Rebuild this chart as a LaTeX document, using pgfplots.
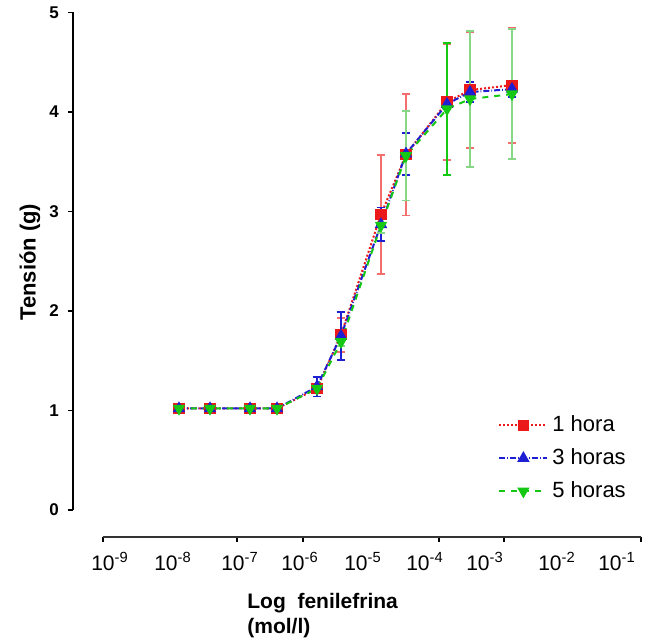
\documentclass[border=0pt]{standalone}
\usepackage{fontspec}
\setmainfont{Liberation Sans}
\usepackage{pgfplots}
\pgfplotsset{compat=1.18}
\definecolor{cred}{RGB}{235,25,25}
\definecolor{cblue}{RGB}{30,30,210}
\definecolor{cgreen}{RGB}{20,200,20}
\definecolor{lred}{RGB}{245,110,110}
\definecolor{lgreen}{RGB}{135,215,135}
\begin{document}
\begin{tikzpicture}
\path[use as bounding box] (-36.5pt,-51.5pt) rectangle (286pt,268.5pt);
\begin{axis}[
  scale only axis, width=284pt, height=262.25pt,
  xmin=73, xmax=641, ymin=-0.2714, ymax=5,
  clip=false,
  axis x line=bottom, axis y line=left,
  axis line style={-, line width=1pt},
  x axis line style={shorten <=15pt, draw=black!80},
  y axis line style={shorten <=13.5pt},
  tick align=outside,
  major tick length=2.5pt,
  tick style={line width=0.8pt, black},
  xtick={103,237,303,439,504,641},
  xticklabels={,,,,,},
  extra x ticks={110,173,240,300,363,425,485,557,617},
  extra x tick labels={10\textsuperscript{-9},10\textsuperscript{-8},10\textsuperscript{-7},10\textsuperscript{-6},10\textsuperscript{-5},10\textsuperscript{-4},10\textsuperscript{-3},10\textsuperscript{-2},10\textsuperscript{-1}},
  extra x tick style={major tick length=0pt, tick style={draw=none}},
  xticklabel style={font=\fontsize{10.5}{12}\selectfont, yshift=-4pt},
  ytick={0,1,2,3,4,5},
  yticklabels={0,1,2,3,4,5},
  yticklabel style={font=\bfseries\fontsize{8.5}{10}\selectfont, xshift=-1pt},
  legend style={at={(axis cs:498,0.99)}, anchor=north west, draw=none, fill=none,
    font=\fontsize{11}{13}\selectfont, row sep=3pt, inner sep=0pt},
  legend cell align=left,
  legend image code/.code={\draw[mark repeat=2, mark phase=2, #1] plot coordinates {(0pt,0pt) (12pt,0pt) (24pt,0pt)};},
]
\addplot[cred, densely dotted, line width=1pt, mark=square*, mark size=2.3pt,
  mark options={solid, fill=cred, draw=cred},
  error bars/.cd, y dir=both, y explicit,
  error bar style={solid, line width=0.9pt, lred},
  error mark options={solid, rotate=90, mark size=2.2pt, line width=0.9pt, lred}]
coordinates {
(179,1.02) +- (0,0.01)
(210,1.02) +- (0,0.01)
(250,1.02) +- (0,0.01)
(277,1.02) +- (0,0.01)
(317,1.22) +- (0,0.05)
(341,1.76) +- (0,0.17)
(381,2.97) +- (0,0.60)
(406,3.57) +- (0,0.61)
(447,4.10) +- (0,0.58)
(470,4.22) +- (0,0.58)
(512,4.27) +- (0,0.58)
};
\addplot[cblue, densely dash dot, line width=1pt, mark=triangle*, mark size=2.6pt,
  mark options={solid, fill=cblue, draw=cblue},
  error bars/.cd, y dir=both, y explicit,
  error bar style={solid, line width=0.9pt, cblue},
  error mark options={solid, rotate=90, mark size=2.2pt, line width=0.9pt, cblue}]
coordinates {
(179,1.02) +- (0,0.01)
(210,1.02) +- (0,0.01)
(250,1.02) +- (0,0.01)
(277,1.02) +- (0,0.01)
(317,1.24) +- (0,0.10)
(341,1.75) +- (0,0.24)
(381,2.87) +- (0,0.17)
(406,3.58) +- (0,0.21)
(447,4.08) +- (0,0.05)
(470,4.20) +- (0,0.10)
(512,4.23) +- (0,0.08)
};
\addplot[cgreen, dashed, line width=1pt, mark=triangle*, mark size=2.6pt,
  mark options={solid, rotate=180, fill=cgreen, draw=cgreen},
  error bars/.cd, y dir=both, y explicit,
  error bar style={solid, line width=0.9pt, lgreen},
  error mark options={solid, rotate=90, mark size=2.2pt, line width=0.9pt, lgreen}]
coordinates {
(179,1.02) +- (0,0.01)
(210,1.02) +- (0,0.01)
(250,1.02) +- (0,0.01)
(277,1.02) +- (0,0.01)
(317,1.22) +- (0,0.03)
(341,1.69) +- (0,0.04)
(381,2.86) +- (0,0.08)
(406,3.56) +- (0,0.45)
(447,4.03) +- (0,0.66)
(470,4.13) +- (0,0.68)
(512,4.18) +- (0,0.65)
};
\addplot[draw=none, forget plot,
  error bars/.cd, y dir=both, y explicit,
  error bar style={solid, line width=0.9pt, cgreen},
  error mark options={solid, rotate=90, mark size=2.2pt, line width=0.9pt, cgreen}]
coordinates {(447,4.03) +- (0,0.66)};
\legend{1 hora, 3 horas, 5 horas}
\node[rotate=90, font=\bfseries\fontsize{11}{13}\selectfont] at (axis cs:30,2.49) {Tensión (g)};
\node[anchor=base west, inner sep=0pt, font=\bfseries\fontsize{10.5}{12}\selectfont] at (axis cs:247,-0.995) {Log\ \ fenilefrina};
\node[anchor=base west, inner sep=0pt, font=\bfseries\fontsize{10.5}{12}\selectfont] at (axis cs:247,-1.246) {(mol/l)};
\end{axis}
\end{tikzpicture}
\end{document}
